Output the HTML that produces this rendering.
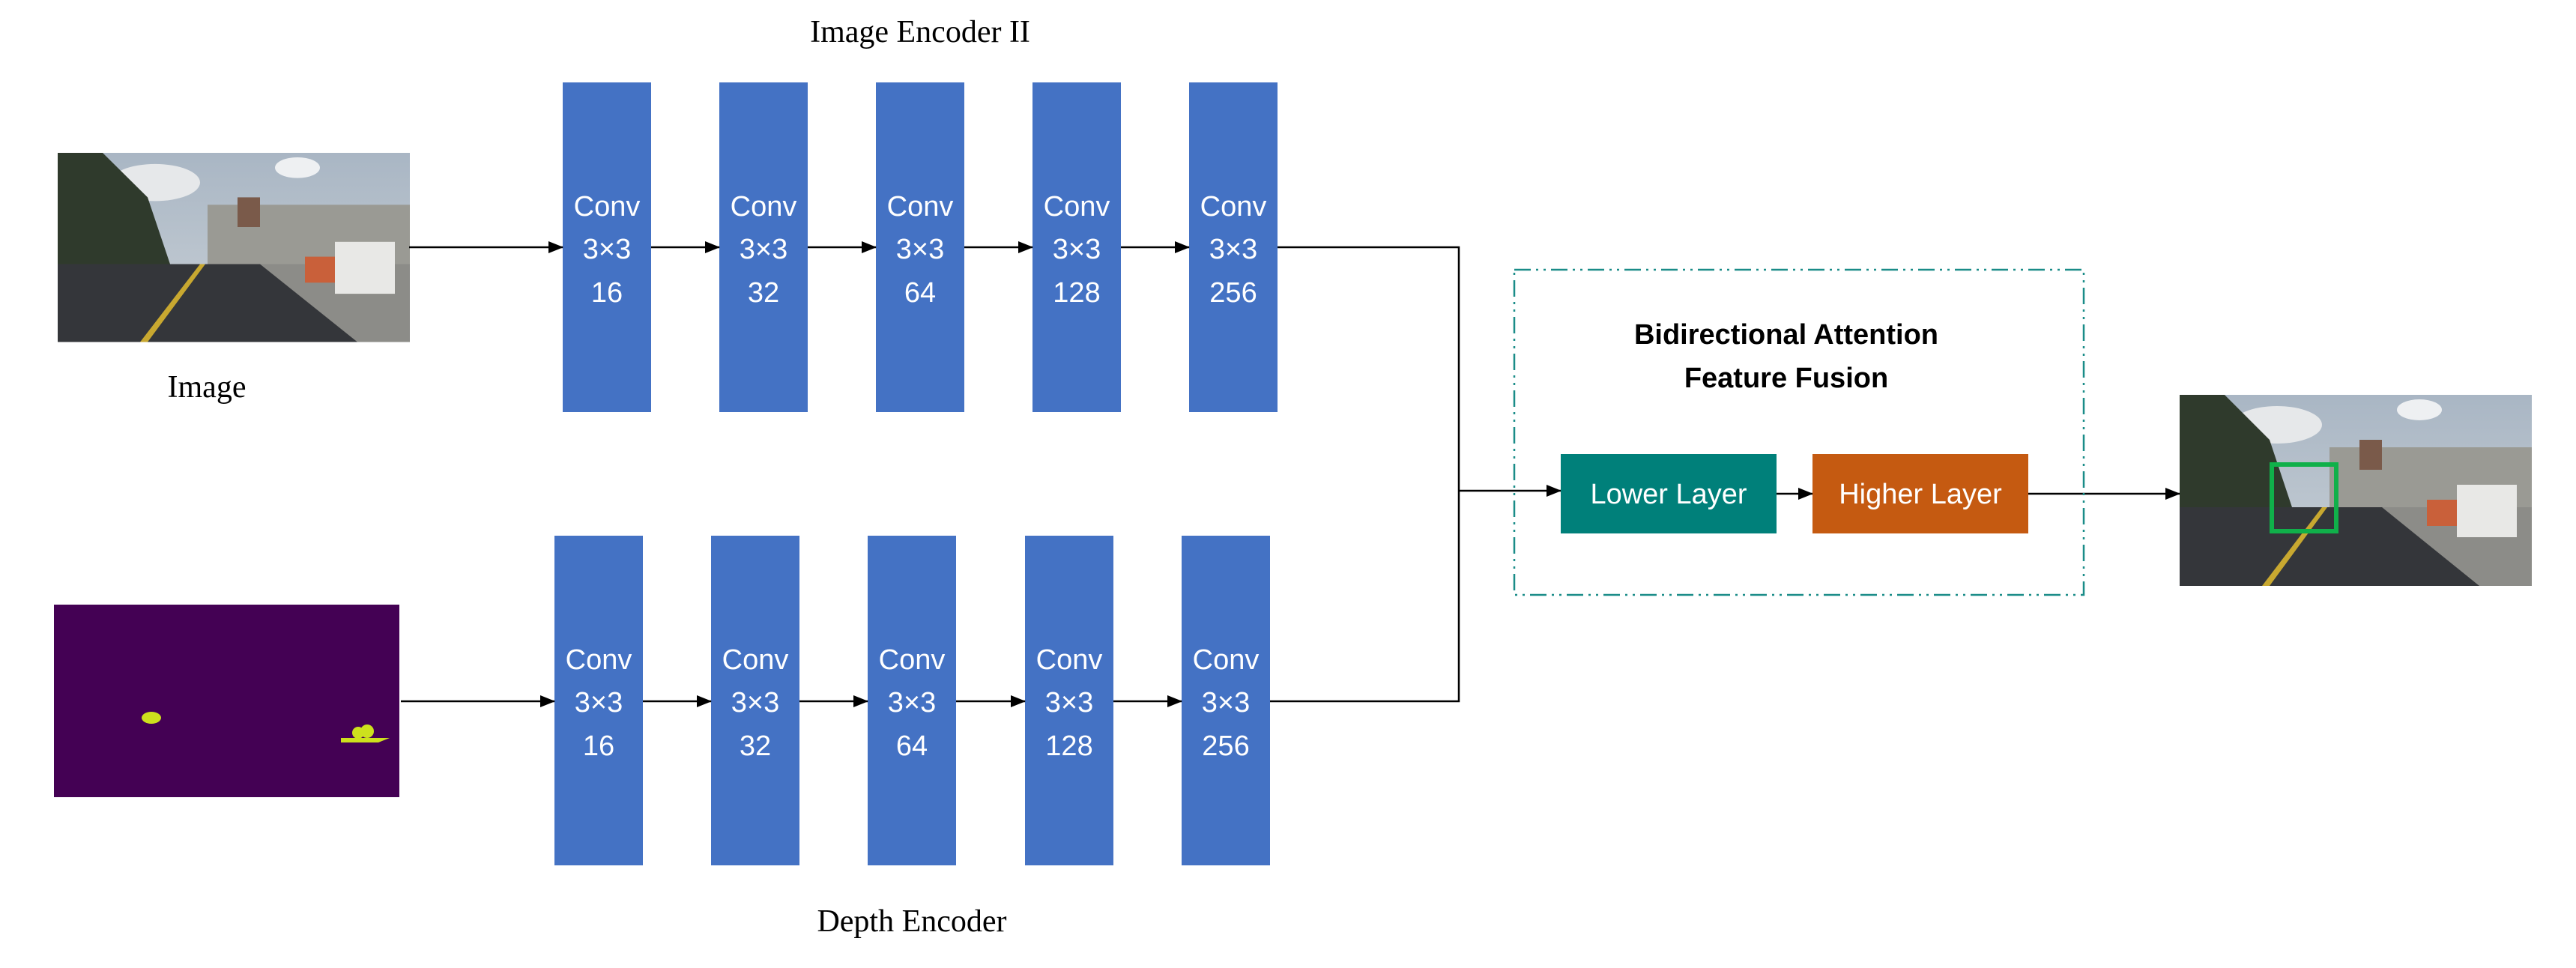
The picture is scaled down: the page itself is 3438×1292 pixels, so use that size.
<!DOCTYPE html>
<html><head><meta charset="utf-8"><style>html,body{margin:0;padding:0;background:#fff}svg{display:block}</style></head>
<body>
<svg width="3438" height="1292" viewBox="0 0 3438 1292" xmlns="http://www.w3.org/2000/svg">
<defs>
<marker id="ar" markerWidth="20" markerHeight="16" refX="19" refY="8" orient="auto" markerUnits="userSpaceOnUse" viewBox="0 0 20 16"><path d="M0,0 L20,8 L0,16 z" fill="#000"/></marker>
<linearGradient id="sky" x1="0" y1="0" x2="0" y2="1"><stop offset="0" stop-color="#a9b6c4"/><stop offset="1" stop-color="#c9d0d6"/></linearGradient>
<g id="road">
<rect x="0" y="0" width="470" height="255" fill="url(#sky)"/>
<ellipse cx="130" cy="40" rx="60" ry="25" fill="#e6e8ea"/>
<ellipse cx="320" cy="20" rx="30" ry="14" fill="#eef0f2"/>
<rect x="200" y="70" width="270" height="80" fill="#9a9a94"/>
<rect x="240" y="60" width="30" height="40" fill="#7a5a4a"/>
<path d="M0,0 L60,0 L120,60 L150,150 L0,170 z" fill="#2f3a2c"/>
<rect x="0" y="150" width="470" height="105" fill="#34363a"/>
<path d="M270,150 L470,150 L470,255 L400,255 z" fill="#8c8c88"/>
<path d="M190,150 L110,255 L120,255 L197,150 z" fill="#c8a830"/>
<rect x="370" y="120" width="80" height="70" fill="#e8e8e6"/>
<rect x="330" y="140" width="40" height="35" fill="#c9603a"/>
</g>
</defs>
<text x="1228" y="56" font-family="Liberation Serif, serif" font-size="42" text-anchor="middle">Image Encoder II</text>
<use href="#road" transform="translate(77,204) scale(1,0.99)"/>
<text x="276" y="530" font-family="Liberation Serif, serif" font-size="42" text-anchor="middle">Image</text>
<g fill="#4472C4">
<rect x="751" y="110" width="118" height="440"/><rect x="960" y="110" width="118" height="440"/><rect x="1169" y="110" width="118" height="440"/><rect x="1378" y="110" width="118" height="440"/><rect x="1587" y="110" width="118" height="440"/>
<rect x="740" y="715" width="118" height="440"/><rect x="949" y="715" width="118" height="440"/><rect x="1158" y="715" width="118" height="440"/><rect x="1368" y="715" width="118" height="440"/><rect x="1577" y="715" width="118" height="440"/>
</g>
<g font-family="Liberation Sans, sans-serif" font-size="38" fill="#fff" text-anchor="middle">
<g transform="translate(810,0)"><text y="288">Conv</text><text y="345">3×3</text><text y="403">16</text></g>
<g transform="translate(1019,0)"><text y="288">Conv</text><text y="345">3×3</text><text y="403">32</text></g>
<g transform="translate(1228,0)"><text y="288">Conv</text><text y="345">3×3</text><text y="403">64</text></g>
<g transform="translate(1437,0)"><text y="288">Conv</text><text y="345">3×3</text><text y="403">128</text></g>
<g transform="translate(1646,0)"><text y="288">Conv</text><text y="345">3×3</text><text y="403">256</text></g>
<g transform="translate(799,0)"><text y="893">Conv</text><text y="950">3×3</text><text y="1008">16</text></g>
<g transform="translate(1008,0)"><text y="893">Conv</text><text y="950">3×3</text><text y="1008">32</text></g>
<g transform="translate(1217,0)"><text y="893">Conv</text><text y="950">3×3</text><text y="1008">64</text></g>
<g transform="translate(1427,0)"><text y="893">Conv</text><text y="950">3×3</text><text y="1008">128</text></g>
<g transform="translate(1636,0)"><text y="893">Conv</text><text y="950">3×3</text><text y="1008">256</text></g>
</g>
<g stroke="#000" stroke-width="2.5" fill="none">
<line x1="546" y1="330" x2="751" y2="330" marker-end="url(#ar)"/>
<line x1="869" y1="330" x2="960" y2="330" marker-end="url(#ar)"/>
<line x1="1078" y1="330" x2="1169" y2="330" marker-end="url(#ar)"/>
<line x1="1287" y1="330" x2="1378" y2="330" marker-end="url(#ar)"/>
<line x1="1496" y1="330" x2="1587" y2="330" marker-end="url(#ar)"/>
<line x1="535" y1="936" x2="740" y2="936" marker-end="url(#ar)"/>
<line x1="858" y1="936" x2="949" y2="936" marker-end="url(#ar)"/>
<line x1="1067" y1="936" x2="1158" y2="936" marker-end="url(#ar)"/>
<line x1="1276" y1="936" x2="1368" y2="936" marker-end="url(#ar)"/>
<line x1="1486" y1="936" x2="1577" y2="936" marker-end="url(#ar)"/>
<polyline points="1705,330 1947,330 1947,936 1695,936"/>
<line x1="1947" y1="655" x2="2083" y2="655" marker-end="url(#ar)"/>
<line x1="2371" y1="659" x2="2419" y2="659" marker-end="url(#ar)"/>
<line x1="2707" y1="659" x2="2909" y2="659" marker-end="url(#ar)"/>
</g>
<rect x="72" y="807" width="461" height="257" fill="#440154"/>
<ellipse cx="202" cy="958" rx="13" ry="8" fill="#cde11d"/>
<path d="M455,985 L520,985 L505,991 L455,991 z" fill="#cde11d"/>
<circle cx="478" cy="978" r="8" fill="#cde11d"/><circle cx="490" cy="976" r="9" fill="#cde11d"/>
<text x="1217" y="1243" font-family="Liberation Serif, serif" font-size="42" text-anchor="middle">Depth Encoder</text>
<rect x="2021" y="360" width="760" height="434" fill="none" stroke="#1A8C88" stroke-width="2.5" stroke-dasharray="22,7,3,7,3,7"/>
<g font-family="Liberation Sans, sans-serif" font-weight="bold" font-size="38" text-anchor="middle">
<text x="2384" y="459">Bidirectional Attention</text>
<text x="2384" y="517">Feature Fusion</text>
</g>
<rect x="2083" y="606" width="288" height="106" fill="#00807A"/>
<rect x="2419" y="606" width="288" height="106" fill="#C55A11"/>
<g font-family="Liberation Sans, sans-serif" font-size="38" fill="#fff" text-anchor="middle">
<text x="2227" y="672">Lower Layer</text>
<text x="2563" y="672">Higher Layer</text>
</g>
<use href="#road" transform="translate(2909,527) scale(1,1)"/>
<rect x="3032" y="620" width="86" height="89" fill="none" stroke="#10b04a" stroke-width="6"/>
</svg>
</body></html>
